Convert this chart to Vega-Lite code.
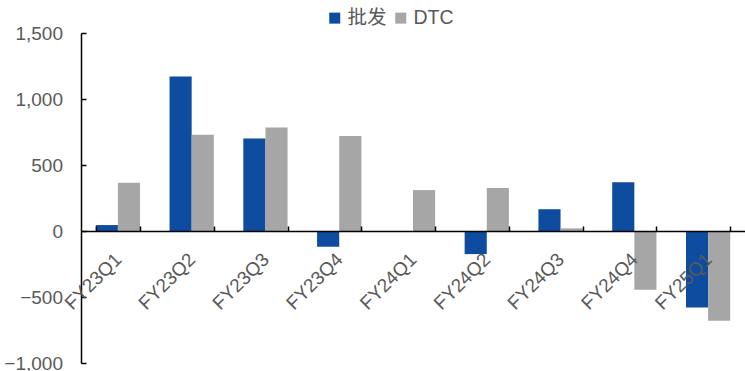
{
  "$schema": "https://vega.github.io/schema/vega-lite/v6.json",
  "autosize": {"type": "none"},
  "width": 664,
  "height": 330,
  "padding": {"left": 81, "top": 33, "right": 0, "bottom": 8},
  "background": "white",
  "config": {
    "view": {"stroke": null},
    "font": "Liberation Sans",
    "axis": {"grid": false, "domainColor": "#000000", "tickColor": "#000000", "labelColor": "#595959", "labelFont": "Liberation Sans", "labelFontSize": 19}
  },
  "data": {
    "values": [
      {"quarter": "FY23Q1", "series": "批发", "value": 45},
      {"quarter": "FY23Q1", "series": "DTC", "value": 365},
      {"quarter": "FY23Q2", "series": "批发", "value": 1170},
      {"quarter": "FY23Q2", "series": "DTC", "value": 730},
      {"quarter": "FY23Q3", "series": "批发", "value": 700},
      {"quarter": "FY23Q3", "series": "DTC", "value": 785},
      {"quarter": "FY23Q4", "series": "批发", "value": -120},
      {"quarter": "FY23Q4", "series": "DTC", "value": 720},
      {"quarter": "FY24Q1", "series": "批发", "value": 0},
      {"quarter": "FY24Q1", "series": "DTC", "value": 310},
      {"quarter": "FY24Q2", "series": "批发", "value": -175},
      {"quarter": "FY24Q2", "series": "DTC", "value": 325},
      {"quarter": "FY24Q3", "series": "批发", "value": 165},
      {"quarter": "FY24Q3", "series": "DTC", "value": 20},
      {"quarter": "FY24Q4", "series": "批发", "value": 370},
      {"quarter": "FY24Q4", "series": "DTC", "value": -445},
      {"quarter": "FY25Q1", "series": "批发", "value": -580},
      {"quarter": "FY25Q1", "series": "DTC", "value": -680}
    ]
  },
  "mark": {"type": "bar"},
  "encoding": {
    "x": {
      "field": "quarter",
      "type": "nominal",
      "sort": null,
      "title": null,
      "scale": {"paddingInner": 0.4, "paddingOuter": 0.2},
      "axis": {
        "orient": "bottom",
        "offset": -132,
        "zindex": 1,
        "domainWidth": 1.5,
        "tickBand": "extent",
        "tickSize": -5,
        "tickWidth": 1.5,
        "labelAngle": -45,
        "labelAlign": "right",
        "labelBaseline": "middle",
        "labelPadding": 30
      }
    },
    "xOffset": {
      "field": "series",
      "type": "nominal",
      "sort": ["批发", "DTC"],
      "scale": {"paddingInner": 0}
    },
    "y": {
      "field": "value",
      "type": "quantitative",
      "title": null,
      "scale": {"domain": [-1000, 1500], "nice": false, "zero": false},
      "axis": {
        "values": [-1000, -500, 0, 500, 1000, 1500],
        "format": ",.0f",
        "domainWidth": 1.5,
        "tickSize": -5,
        "tickWidth": 1.5,
        "labelPadding": 23.5
      }
    },
    "color": {
      "field": "series",
      "type": "nominal",
      "sort": ["批发", "DTC"],
      "title": null,
      "scale": {"domain": ["批发", "DTC"], "range": ["#0D4C9F", "#A6A6A6"]},
      "legend": {
        "orient": "none",
        "direction": "horizontal",
        "legendX": 244,
        "legendY": -25,
        "padding": 0,
        "symbolType": "square",
        "symbolSize": 121,
        "symbolStrokeWidth": 0,
        "symbolOpacity": 1,
        "labelFontSize": 19.5,
        "labelColor": "#595959",
        "labelFont": "Liberation Sans, Noto Sans CJK SC",
        "labelOffset": 3,
        "columnPadding": 4
      }
    }
  }
}
